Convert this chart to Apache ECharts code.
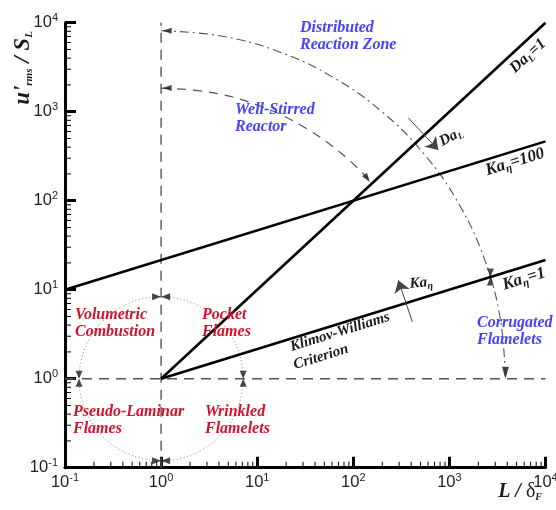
<!DOCTYPE html>
<html><head><meta charset="utf-8">
<script src="https://cdn.jsdelivr.net/npm/echarts@6/dist/echarts.min.js"></script>
<style>html,body{margin:0;padding:0;background:#fff}#c{width:556px;height:510px}</style>
</head><body><div id="c"></div>
<script>
// ---- data ----
const axisMin = 0.1, axisMax = 10000;
const xTickExponents = ['-1','0','1','2','3','4'];
const yTickExponents = ['-1','0','1','2','3','4'];
const minorTicks = [0.2,0.3,0.4,0.5,0.6,0.7,0.8,0.9,2,3,4,5,6,7,8,9,20,30,40,50,60,70,80,90,200,300,400,500,600,700,800,900,2000,3000,4000,5000,6000,7000,8000,9000];

const daLine = [[1,1],[10000,10000]];           // Da_L = 1
const ka100Line = [[0.1,10],[10000,464]];      // Ka_eta = 100
const ka1Line = [[1,1],[10000,21.5]];          // Ka_eta = 1 (Klimov-Williams)
const vDashed = [[1,0.1],[1,10000]];
const hDashed = [[0.1,1],[10000,1]];
const distributedArc = [[1,8130],[4.19,7100],[16.8,4720],[61.8,2430],[201,989],[556,326],[1268,90.2],[2328,21.7],[3380,4.78],[3830,1]];
const stirredArc = [[1,1845],[3.28,1648],[10.4,1172],[30.5,674],[81,318],[157,157]];
const laminarCircle = [[7.15,1],[6.68,1.73],[5.49,2.89],[4.02,4.48],[2.67,6.28],[1.66,7.76],[1,8.34],[0.601,7.76],[0.374,6.28],[0.249,4.48],[0.182,2.89],[0.150,1.73],[0.140,1],[0.150,0.578],[0.182,0.346],[0.249,0.223],[0.374,0.159],[0.601,0.129],[1,0.120],[1.66,0.129],[2.67,0.159],[4.02,0.223],[5.49,0.346],[6.68,0.578],[7.15,1]];
const circleMarksV = [[0.14,1],[7.15,1]];
const circleMarksH = [[1,8.34],[1,0.12]];
const arcStartFlags = [[1,8130],[1,1845]];
const kaCrossMark = [[2670,13.9]];
const arcEndArrow = [[3830,1]];
const stirredEndMark = [[157,157]];
const daArrow = [[374,849],[768,371]];
const kaArrow = [[412,4.34],[294,12.8]];

// ---- chart ----
const chart = echarts.init(document.getElementById('c'), null, {renderer:'canvas'});
const serif = 'Liberation Serif';
const sans = 'Liberation Sans';
const BLUE = '#4343ff', RED = '#d3122c', INK = '#1a1a1a', GREY = '#555';

const HOURGLASS_V = 'path://M0,0 L10,0 L5,10 Z M5,10 L10,20 L0,20 Z';
const BOWTIE_H = 'path://M0,0 L10,5 L0,10 Z M20,0 L10,5 L20,10 Z';
const TRI_LEFT = 'path://M0,5 L10,0 L10,10 Z';
const TRI_DOWN = 'path://M0,0 L10,0 L5,14 Z';

function lineS(data, style, extra){
  return Object.assign({type:'line', data, showSymbol:false, symbol:'none', silent:true, animation:false, lineStyle:style}, extra||{});
}
function marks(data, symbol, size, extra){
  return Object.assign({type:'scatter', data, symbol, symbolSize:size, silent:true, animation:false, itemStyle:{color:INK}, z:5}, extra||{});
}
const tickRich = {
  b:{fontFamily:sans, fontSize:16.5, color:'#222'},
  s:{fontFamily:sans, fontSize:11, color:'#222', padding:[0,0,9,0]}
};
function baseAxis(labels){
  return {
    type:'log', logBase:10, min:axisMin, max:axisMax,
    axisLine:{show:true, lineStyle:{color:'#000', width:3}},
    axisTick:{show:true, inside:true, length:11, lineStyle:{color:'#000', width:3}},
    minorTick:{show:false},
    splitLine:{show:false},
    axisLabel:{show:true, formatter:(v,i)=>'{b|10}{s|'+labels[i]+'}', rich:tickRich}
  };
}
const xMain = baseAxis(xTickExponents); xMain.axisLabel.margin = 5; xMain.position='bottom';
const yMain = baseAxis(yTickExponents); yMain.axisLabel.margin = 7; yMain.position='left';

// minor ticks drawn through the axes' scales
function minorTickSeries(horizontal){
  return {
    type:'custom', silent:true, animation:false, z:6, clip:false,
    data: minorTicks.map(v=>[v]),
    renderItem:(params, api)=>{
      const v = api.value(0);
      if (horizontal){
        const p = api.coord([v, axisMin]);
        return {type:'line', shape:{x1:p[0], y1:p[1], x2:p[0], y2:p[1]-6}, style:{stroke:'#000', lineWidth:1}};
      } else {
        const p = api.coord([axisMin, v]);
        return {type:'line', shape:{x1:p[0], y1:p[1], x2:p[0]+6, y2:p[1]}, style:{stroke:'#000', lineWidth:1}};
      }
    }
  };
}

const option = {
  backgroundColor:'#fff',
  animation:false,
  grid:{left:65, right:10.5, top:22.7, bottom:42.3, containLabel:false, outerBoundsMode:'none'},
  xAxis:[xMain],
  yAxis:[yMain],
  series:[
    lineS(vDashed, {color:GREY, width:1.4, type:[10,7]}),
    lineS(hDashed, {color:GREY, width:1.4, type:[10,7]}),
    lineS(laminarCircle, {color:'#8a8a8a', width:1, type:[1,2.5]}, {smooth:0.4}),
    lineS(distributedArc, {color:GREY, width:1.1, type:[9,4,2,4]}, {smooth:0.4}),
    lineS(stirredArc, {color:GREY, width:1.2, type:[9,7]}, {smooth:0.4}),
    lineS(daLine, {color:'#000', width:2.6}, {z:3}),
    lineS(ka100Line, {color:'#000', width:2.6}, {z:3}),
    lineS(ka1Line, {color:'#000', width:2.6}, {z:3}),
    {type:'lines', coordinateSystem:'cartesian2d', silent:true, animation:false,
     symbol:['none','arrow'], symbolSize:[7,12],
     lineStyle:{color:'#444', width:1, opacity:1},
     data:[{coords:daArrow},{coords:kaArrow}], z:4},
    marks(circleMarksV, HOURGLASS_V, [7,16]),
    marks(circleMarksH, BOWTIE_H, [18,7]),
    marks(arcStartFlags, TRI_LEFT, [9,6], {symbolOffset:[6,0]}),
    marks(kaCrossMark, HOURGLASS_V, [7,17]),
    marks(arcEndArrow, TRI_DOWN, [7,12], {symbolOffset:[0,-6]}),
    marks(stirredEndMark, TRI_DOWN, [6,9], {symbolRotate:35, symbolOffset:[-5,-5]}),
    minorTickSeries(true),
    minorTickSeries(false)
  ],
  graphic:[]
};

function txt(x, y, text, opts){
  return Object.assign({type:'text', x, y, z:100, silent:true, style:Object.assign({text, fontFamily:serif, fontWeight:'bold', fontStyle:'italic', fontSize:16, lineHeight:16.5, fill:INK, align:'left', verticalAlign:'top'}, opts.style||{})}, opts.el||{});
}
const g = option.graphic;
g.push(txt(300, 20, 'Distributed\nReaction Zone', {style:{fill:BLUE}}));
g.push(txt(235, 102, 'Well-Stirred\nReactor', {style:{fill:BLUE}}));
g.push(txt(477, 315, 'Corrugated\nFlamelets', {style:{fill:BLUE}}));
g.push(txt(75, 307, 'Volumetric\nCombustion', {style:{fill:RED}}));
g.push(txt(202, 307, 'Pocket\nFlames', {style:{fill:RED}}));
g.push(txt(73, 404, 'Pseudo-Laminar\nFlames', {style:{fill:RED}}));
g.push(txt(205, 404, 'Wrinkled\nFlamelets', {style:{fill:RED}}));

const sub = (size, drop)=>({fontFamily:serif, fontWeight:'bold', fontStyle:'italic', fontSize:size, fill:INK, padding:[drop,0,0,0]});
const main = (size)=>({fontFamily:serif, fontWeight:'bold', fontStyle:'italic', fontSize:size, fill:INK});
// rotated line labels
g.push({type:'text', x:528, y:56, rotation:0.747, z:100, silent:true,
  style:{text:'{a|Da}{s|L}{a|=1}', rich:{a:main(16), s:sub(10,9)}, align:'center', verticalAlign:'middle'}});
g.push({type:'text', x:515, y:162, rotation:0.30, z:100, silent:true,
  style:{text:'{a|Ka}{s|η}{a|=100}', rich:{a:main(17), s:sub(11,9)}, align:'center', verticalAlign:'middle'}});
g.push({type:'text', x:524, y:279, rotation:0.30, z:100, silent:true,
  style:{text:'{a|Ka}{s|η}{a|=1}', rich:{a:main(17), s:sub(11,9)}, align:'center', verticalAlign:'middle'}});
g.push({type:'text', x:340, y:332, rotation:0.30, z:100, silent:true,
  style:{text:'Klimov-Williams', fontFamily:serif, fontWeight:'bold', fontStyle:'italic', fontSize:15, fill:INK, align:'center', verticalAlign:'middle'}});
g.push({type:'text', x:321, y:357, rotation:0.30, z:100, silent:true,
  style:{text:'Criterion', fontFamily:serif, fontWeight:'bold', fontStyle:'italic', fontSize:15, fill:INK, align:'center', verticalAlign:'middle'}});
g.push({type:'text', x:451, y:137, rotation:0.49, z:100, silent:true,
  style:{text:'{a|Da}{s|L}', rich:{a:main(15), s:sub(9,8)}, align:'center', verticalAlign:'middle'}});
g.push({type:'text', x:421, y:283, rotation:0.1, z:100, silent:true,
  style:{text:'{a|Ka}{s|η}', rich:{a:main(15), s:sub(10,8)}, align:'center', verticalAlign:'middle'}});
// axis titles
g.push({type:'text', x:23, y:68, rotation:Math.PI/2, z:100, silent:true,
  style:{text:"{a|u'}{s|rms}{a| / S}{s|L}", rich:{a:main(23), s:sub(11,12)}, align:'center', verticalAlign:'middle'}});
g.push({type:'text', x:542, y:492, z:100, silent:true,
  style:{text:'{a|L / }{d|δ}{s|F}', rich:{a:main(20), d:{fontFamily:serif, fontSize:20, fill:INK}, s:sub(10,10)}, align:'right', verticalAlign:'middle'}});

chart.setOption(option);
</script></body></html>
